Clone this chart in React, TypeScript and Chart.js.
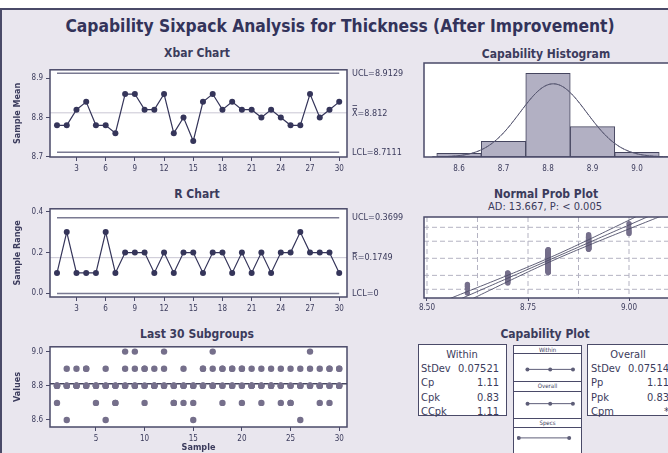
import React, { useEffect, useRef } from "react";
import { Chart, registerables } from "chart.js";

Chart.register(...registerables);

const FONT = "'DejaVu Sans Condensed', 'DejaVu Sans', sans-serif";
const TXT = "#3b3b5c";
const BG = "#e9e6ee";
const FRAME = "#4a4a68";
const DATA = "#35355a";
const LIMIT = "#7a7a92";
const CENTER = "#c9c7d3";
const DOT = "#756f8b";

// ---------- data ----------
const samples = [1, 2, 3, 4, 5, 6, 7, 8, 9, 10, 11, 12, 13, 14, 15, 16, 17, 18, 19, 20, 21, 22, 23, 24, 25, 26, 27, 28, 29, 30];
const xbarTicks = [3, 6, 9, 12, 15, 18, 21, 24, 27, 30];
const last30Ticks = [5, 10, 15, 20, 25, 30];
const xbarYTicks = [8.7, 8.8, 8.9];
const rangeYTicks = [0, 0.2, 0.4];
const valuesYTicks = [8.6, 8.8, 9.0];

const xbarMeans = [8.78, 8.78, 8.82, 8.84, 8.78, 8.78, 8.76, 8.86, 8.86, 8.82, 8.82, 8.86, 8.76, 8.8, 8.74, 8.84, 8.86, 8.82, 8.84, 8.82, 8.82, 8.8, 8.82, 8.8, 8.78, 8.78, 8.86, 8.8, 8.82, 8.84];
const sampleRanges = [0.1, 0.3, 0.1, 0.1, 0.1, 0.3, 0.1, 0.2, 0.2, 0.2, 0.1, 0.2, 0.1, 0.2, 0.2, 0.1, 0.2, 0.2, 0.1, 0.2, 0.1, 0.2, 0.1, 0.2, 0.2, 0.3, 0.2, 0.2, 0.2, 0.1];
const subgroupValues = [
  [8.7, 8.8, 8.8, 8.8, 8.8],
  [8.6, 8.8, 8.8, 8.8, 8.9],
  [8.8, 8.8, 8.8, 8.8, 8.9],
  [8.8, 8.8, 8.8, 8.9, 8.9],
  [8.7, 8.8, 8.8, 8.8, 8.8],
  [8.6, 8.8, 8.8, 8.8, 8.9],
  [8.7, 8.7, 8.8, 8.8, 8.8],
  [8.8, 8.8, 8.8, 8.9, 9.0],
  [8.8, 8.8, 8.8, 8.9, 9.0],
  [8.7, 8.8, 8.8, 8.9, 8.9],
  [8.8, 8.8, 8.8, 8.8, 8.9],
  [8.8, 8.8, 8.8, 8.9, 9.0],
  [8.7, 8.7, 8.8, 8.8, 8.8],
  [8.7, 8.8, 8.8, 8.8, 8.9],
  [8.6, 8.7, 8.8, 8.8, 8.8],
  [8.8, 8.8, 8.8, 8.9, 8.9],
  [8.8, 8.8, 8.8, 8.9, 9.0],
  [8.7, 8.8, 8.8, 8.9, 8.9],
  [8.8, 8.8, 8.8, 8.9, 8.9],
  [8.7, 8.8, 8.8, 8.9, 8.9],
  [8.8, 8.8, 8.8, 8.8, 8.9],
  [8.7, 8.8, 8.8, 8.8, 8.9],
  [8.8, 8.8, 8.8, 8.8, 8.9],
  [8.7, 8.8, 8.8, 8.8, 8.9],
  [8.7, 8.7, 8.8, 8.8, 8.9],
  [8.6, 8.8, 8.8, 8.8, 8.9],
  [8.8, 8.8, 8.8, 8.9, 9.0],
  [8.7, 8.8, 8.8, 8.8, 8.9],
  [8.7, 8.8, 8.8, 8.9, 8.9],
  [8.8, 8.8, 8.8, 8.9, 8.9],
];

const xbarUCL = 8.9129;
const xbarCenter = 8.812;
const xbarLCL = 8.7111;
const rUCL = 0.3699;
const rCenter = 0.1749;
const rLCL = 0;

const histBins = [8.6, 8.7, 8.8, 8.9, 9.0];
const histCounts = [4, 17, 91, 33, 5];
const histTicks = [8.6, 8.7, 8.8, 8.9, 9.0];

const probTicks = [8.5, 8.75, 9.0];
const probGridX = [8.5, 8.625, 8.75, 8.875, 9.0];
const probGridZ = [-2.326, -1.2816, 0, 1.2816, 2.326];
const adText = "AD: 13.667, P: < 0.005";

const processMean = 8.812;
const sdWithin = 0.07521;
const sdOverall = 0.07514;
const withinInterval = [8.586, 8.812, 9.038];
const overallInterval = [8.587, 8.812, 9.037];
const specLimits = [8.5, 9.0];

const withinStats = [
  ["StDev", "0.07521"],
  ["Cp", "1.11"],
  ["Cpk", "0.83"],
  ["CCpk", "1.11"],
];
const overallStats = [
  ["StDev", "0.07514"],
  ["Pp", "1.11"],
  ["Ppk", "0.83"],
  ["Cpm", "*"],
];

// ---------- helpers ----------
function invNorm(p: number): number {
  const a = [-3.969683028665376e1, 2.209460984245205e2, -2.759285104469687e2, 1.38357751867269e2, -3.066479806614716e1, 2.506628277459239];
  const b = [-5.447609879822406e1, 1.615858368580409e2, -1.556989798598866e2, 6.680131188771972e1, -1.328068155288572e1];
  const c = [-7.784894002430293e-3, -3.223964580411365e-1, -2.400758277161838, -2.549671010243232, 4.374664141464968, 2.938163982698783];
  const d = [7.784695709041462e-3, 3.224671290700398e-1, 2.445134137142996, 3.754408661907416];
  const pl = 0.02425;
  if (p < pl) {
    const q = Math.sqrt(-2 * Math.log(p));
    return (((((c[0] * q + c[1]) * q + c[2]) * q + c[3]) * q + c[4]) * q + c[5]) / ((((d[0] * q + d[1]) * q + d[2]) * q + d[3]) * q + 1);
  }
  if (p <= 1 - pl) {
    const q = p - 0.5;
    const r = q * q;
    return ((((((a[0] * r + a[1]) * r + a[2]) * r + a[3]) * r + a[4]) * r + a[5]) * q) / (((((b[0] * r + b[1]) * r + b[2]) * r + b[3]) * r + b[4]) * r + 1);
  }
  const q = Math.sqrt(-2 * Math.log(1 - p));
  return -(((((c[0] * q + c[1]) * q + c[2]) * q + c[3]) * q + c[4]) * q + c[5]) / ((((d[0] * q + d[1]) * q + d[2]) * q + d[3]) * q + 1);
}

function axis(o: any) {
  const tl = o.tickLen ?? 4;
  return {
    type: "linear",
    display: o.display ?? true,
    reverse: o.reverse ?? false,
    min: o.min,
    max: o.max,
    offset: false,
    afterBuildTicks: (s: any) => {
      s.ticks = (o.ticks || []).map((v: number) => ({ value: v }));
    },
    afterFit: (s: any) => {
      if (s.isHorizontal()) s.height = o.size;
      else s.width = o.size;
    },
    ticks: {
      display: o.showLabels ?? true,
      font: { family: FONT, size: 8 },
      color: TXT,
      padding: o.pad ?? 3,
      autoSkip: false,
      maxRotation: 0,
      callback: (v: any) => (o.fmt ? o.fmt(Number(v)) : String(v)),
    },
    grid: { display: tl > 0, drawOnChartArea: false, drawTicks: true, tickLength: tl, color: FRAME, lineWidth: 1 },
    border: { display: false },
    title: o.title
      ? { display: true, text: o.title, color: TXT, font: { family: FONT, size: 9, weight: "bold" }, padding: o.titlePad ?? 0 }
      : { display: false },
  };
}

const framePlugin = {
  id: "frame",
  beforeDraw(chart: any) {
    const { ctx, chartArea: a } = chart;
    ctx.save();
    ctx.fillStyle = "#ffffff";
    ctx.fillRect(a.left, a.top, a.right - a.left, a.bottom - a.top);
    ctx.restore();
  },
  afterDraw(chart: any) {
    const { ctx, chartArea: a } = chart;
    ctx.save();
    ctx.strokeStyle = FRAME;
    ctx.lineWidth = 1.5;
    ctx.strokeRect(a.left, a.top, a.right - a.left, a.bottom - a.top);
    ctx.restore();
  },
};

const refLinesPlugin = {
  id: "refLines",
  beforeDatasetsDraw(chart: any, _a: any, opts: any) {
    const items = opts && opts.items;
    if (!items) return;
    const { ctx, chartArea: a, scales } = chart;
    ctx.save();
    ctx.beginPath();
    ctx.rect(a.left, a.top, a.right - a.left, a.bottom - a.top);
    ctx.clip();
    for (const it of items) {
      ctx.strokeStyle = it.color;
      ctx.lineWidth = it.width;
      ctx.setLineDash(it.dash || []);
      ctx.beginPath();
      if (it.axis === "x") {
        const px = scales.x.getPixelForValue(it.value);
        ctx.moveTo(px, a.top);
        ctx.lineTo(px, a.bottom);
      } else {
        const py = scales.y.getPixelForValue(it.value);
        const x0 = it.from != null ? scales.x.getPixelForValue(it.from) : a.left;
        const x1 = it.to != null ? scales.x.getPixelForValue(it.to) : a.right;
        ctx.moveTo(x0, py);
        ctx.lineTo(x1, py);
      }
      ctx.stroke();
    }
    ctx.restore();
  },
};

const sideLabelsPlugin = {
  id: "sideLabels",
  afterDraw(chart: any, _a: any, opts: any) {
    const items = opts && opts.items;
    if (!items) return;
    const { ctx, chartArea: a, scales } = chart;
    ctx.save();
    ctx.font = `9px ${FONT}`;
    ctx.fillStyle = TXT;
    ctx.strokeStyle = TXT;
    ctx.lineWidth = 0.8;
    ctx.textBaseline = "middle";
    ctx.textAlign = "left";
    for (const it of items) {
      const py = scales.y.getPixelForValue(it.value) + (it.dy || 0);
      const x0 = a.right + 5;
      ctx.fillText(it.text, x0, py);
      if (it.bars) {
        const w = ctx.measureText(it.text[0]).width;
        for (let i = 0; i < it.bars; i++) {
          const yy = Math.round(py - 6 - i * 2.5) + 0.5;
          ctx.beginPath();
          ctx.moveTo(x0 + 0.5, yy);
          ctx.lineTo(x0 + w - 0.5, yy);
          ctx.stroke();
        }
      }
    }
    ctx.restore();
  },
};

const basePlugins = { legend: { display: false }, tooltip: { enabled: false } };

function baseOptions(padding: any) {
  return {
    animation: false,
    responsive: false,
    maintainAspectRatio: false,
    devicePixelRatio: 1,
    events: [],
    layout: { padding },
  };
}

// ---------- chart configs ----------
function xbarConfig(): any {
  return {
    type: "line",
    data: {
      datasets: [
        {
          data: samples.map((s, i) => ({ x: s, y: xbarMeans[i] })),
          borderColor: DATA,
          backgroundColor: DATA,
          borderWidth: 1.2,
          pointRadius: 3,
          pointBorderWidth: 0,
          pointBackgroundColor: DATA,
          tension: 0,
        },
      ],
    },
    options: {
      ...baseOptions({ top: 5, right: 65, left: 0, bottom: 0 }),
      scales: {
        x: axis({ min: 0.28, max: 30.8, ticks: xbarTicks, size: 20 }),
        y: axis({ min: 8.699, max: 8.922, ticks: xbarYTicks, fmt: (v: number) => v.toFixed(1), size: 48, title: "Sample Mean", titlePad: { top: 10, bottom: 0 } }),
      },
      plugins: {
        ...basePlugins,
        refLines: {
          items: [
            { value: xbarCenter, color: CENTER, width: 1 },
            { value: xbarUCL, color: LIMIT, width: 1.5, from: 1, to: 30 },
            { value: xbarLCL, color: LIMIT, width: 1.5, from: 1, to: 30 },
          ],
        },
        sideLabels: {
          items: [
            { value: xbarUCL, text: `UCL=${xbarUCL}` },
            { value: xbarCenter, text: `X=${xbarCenter}`, bars: 2, dy: 1 },
            { value: xbarLCL, text: `LCL=${xbarLCL}` },
          ],
        },
      },
    },
    plugins: [framePlugin, refLinesPlugin, sideLabelsPlugin],
  };
}

function rConfig(): any {
  return {
    type: "line",
    data: {
      datasets: [
        {
          data: samples.map((s, i) => ({ x: s, y: sampleRanges[i] })),
          borderColor: DATA,
          backgroundColor: DATA,
          borderWidth: 1.2,
          pointRadius: 3,
          pointBorderWidth: 0,
          pointBackgroundColor: DATA,
          tension: 0,
        },
      ],
    },
    options: {
      ...baseOptions({ top: 5, right: 65, left: 0, bottom: 0 }),
      scales: {
        x: axis({ min: 0.28, max: 30.8, ticks: xbarTicks, size: 20 }),
        y: axis({ min: -0.0176, max: 0.414, ticks: rangeYTicks, fmt: (v: number) => v.toFixed(1), size: 48, title: "Sample Range", titlePad: { top: 10, bottom: 0 } }),
      },
      plugins: {
        ...basePlugins,
        refLines: {
          items: [
            { value: rCenter, color: CENTER, width: 1 },
            { value: rUCL, color: LIMIT, width: 1.5, from: 1, to: 30 },
            { value: rLCL, color: LIMIT, width: 1.5, from: 1, to: 30 },
          ],
        },
        sideLabels: {
          items: [
            { value: rUCL, text: `UCL=${rUCL}` },
            { value: rCenter, text: `R=${rCenter}`, bars: 1, dy: 0 },
            { value: rLCL, text: `LCL=${rLCL}` },
          ],
        },
      },
    },
    plugins: [framePlugin, refLinesPlugin, sideLabelsPlugin],
  };
}

function last30Config(): any {
  const pts: any[] = [];
  subgroupValues.forEach((vals, i) => vals.forEach((v) => pts.push({ x: samples[i], y: v })));
  return {
    type: "scatter",
    data: {
      datasets: [
        {
          data: pts,
          pointRadius: 3.2,
          pointBorderWidth: 0,
          pointBackgroundColor: DOT,
          backgroundColor: DOT,
          borderColor: DOT,
        },
      ],
    },
    options: {
      ...baseOptions({ top: 5, right: 65, left: 0, bottom: 0 }),
      scales: {
        x: axis({ min: 0.28, max: 30.8, ticks: last30Ticks, size: 26, title: "Sample", titlePad: { top: 0, bottom: 0 } }),
        y: axis({ min: 8.559, max: 9.028, ticks: valuesYTicks, fmt: (v: number) => v.toFixed(1), size: 48, title: "Values", titlePad: { top: 10, bottom: 0 } }),
      },
      plugins: {
        ...basePlugins,
        refLines: { items: [{ value: processMean, color: "#45455f", width: 1.5 }] },
      },
    },
    plugins: [framePlugin, refLinesPlugin],
  };
}

function normalCurve(sd: number) {
  const n = histCounts.reduce((s, v) => s + v, 0);
  const bw = 0.1;
  const pts: any[] = [];
  for (let x = 8.54; x <= 9.08; x += 0.004) {
    const z = (x - processMean) / sd;
    pts.push({ x, y: (n * bw * Math.exp(-0.5 * z * z)) / (sd * Math.sqrt(2 * Math.PI)) });
  }
  return pts;
}

function histConfig(): any {
  return {
    type: "bar",
    data: {
      datasets: [
        {
          type: "line",
          data: normalCurve(sdWithin),
          borderColor: "#55556f",
          borderWidth: 1,
          pointRadius: 0,
          tension: 0,
          order: 0,
        },
        {
          type: "line",
          data: normalCurve(sdOverall),
          borderColor: "#6a6a84",
          borderWidth: 0.8,
          borderDash: [3, 2],
          pointRadius: 0,
          tension: 0,
          order: 0,
        },
        {
          type: "bar",
          data: histBins.map((b, i) => ({ x: b, y: histCounts[i] })),
          backgroundColor: "#b2b0c3",
          borderColor: "#45455f",
          borderWidth: 1,
          borderSkipped: false,
          barPercentage: 1,
          categoryPercentage: 1,
          order: 1,
        },
      ],
    },
    options: {
      ...baseOptions({ top: 1, right: 12, left: 10, bottom: 0 }),
      scales: {
        x: axis({ min: 8.5213, max: 9.0787, ticks: histTicks, fmt: (v: number) => v.toFixed(1), size: 20, tickLen: 0, pad: 7 }),
        y: axis({ min: 0, max: 102.2, ticks: [], size: 0, display: false }),
      },
      plugins: { ...basePlugins },
    },
    plugins: [framePlugin],
  };
}

function probConfig(): any {
  const all: number[] = [];
  subgroupValues.forEach((vals) => vals.forEach((v) => all.push(v)));
  all.sort((a, b) => a - b);
  const n = all.length;
  const pts = all.map((v, i) => ({ x: v, y: invNorm((i + 1 - 0.3) / (n + 0.4)) }));
  const fit: any[] = [];
  const lo: any[] = [];
  const hi: any[] = [];
  for (let z = -3.4; z <= 3.45; z += 0.1) {
    const c = processMean + sdOverall * z;
    const se = 1.96 * sdOverall * Math.sqrt(1 / n + (z * z) / (2 * (n - 1)));
    fit.push({ x: c, y: z });
    lo.push({ x: c - se, y: z });
    hi.push({ x: c + se, y: z });
  }
  const lineDs = (d: any[]) => ({ data: d, showLine: true, borderColor: "#4d4d68", borderWidth: 0.9, pointRadius: 0, tension: 0 });
  return {
    type: "scatter",
    data: {
      datasets: [
        lineDs(fit),
        lineDs(lo),
        lineDs(hi),
        { data: pts, pointRadius: 2.7, pointBorderWidth: 0, pointBackgroundColor: DOT, backgroundColor: DOT, borderColor: DOT },
      ],
    },
    options: {
      ...baseOptions({ top: 5, right: 12, left: 10, bottom: 0 }),
      scales: {
        x: axis({ min: 8.4926, max: 9.1064, ticks: probTicks, fmt: (v: number) => v.toFixed(2), size: 19, tickLen: 3, pad: 2 }),
        y: axis({ min: -2.98, max: 3.1, ticks: [], size: 0, display: false }),
      },
      plugins: {
        ...basePlugins,
        refLines: {
          items: [
            ...probGridX.map((v) => ({ axis: "x", value: v, color: "#b4b3c2", width: 1, dash: [5, 3] })),
            ...probGridZ.map((v) => ({ value: v, color: "#b4b3c2", width: 1, dash: [5, 3] })),
          ],
        },
      },
    },
    plugins: [framePlugin, refLinesPlugin],
  };
}

function capConfig(): any {
  const row = (vals: number[], r: number) => ({
    data: vals.map((v) => ({ x: v, y: r })),
    showLine: true,
    borderColor: "#5e5e78",
    borderWidth: 1,
    pointRadius: 2,
    pointBorderWidth: 0,
    pointBackgroundColor: "#5e5e78",
    tension: 0,
  });
  return {
    type: "scatter",
    data: { datasets: [row(withinInterval, 0), row(overallInterval, 1), row(specLimits, 2)] },
    options: {
      ...baseOptions({ top: 0, right: 0, left: 0, bottom: 0 }),
      scales: {
        x: axis({ min: 8.4825, max: 9.0877, ticks: [], size: 0, display: false }),
        y: axis({ min: -0.595, max: 2.324, ticks: [], size: 0, display: false, reverse: true }),
      },
      plugins: { ...basePlugins },
    },
    plugins: [],
  };
}

// ---------- layout helpers ----------
function Txt(props: { x: number; y: number; text: string; size: number; bold?: boolean; align?: string; color?: string }) {
  const { x, y, text, size, bold, align = "center", color = TXT } = props;
  const tx = align === "center" ? "-50%" : align === "right" ? "-100%" : "0";
  return (
    <div
      style={{
        position: "absolute",
        left: x,
        top: y,
        transform: `translate(${tx}, -50%)`,
        font: `${bold ? "bold " : ""}${size}px ${FONT}`,
        color,
        whiteSpace: "nowrap",
        lineHeight: 1,
      }}
    >
      {text}
    </div>
  );
}

function Box(props: { l: number; t: number; w: number; h: number }) {
  return (
    <div
      style={{
        position: "absolute",
        left: props.l,
        top: props.t,
        width: props.w,
        height: props.h,
        boxSizing: "border-box",
        border: `1px solid ${FRAME}`,
        background: "#ffffff",
      }}
    />
  );
}

function Cnv(props: { r: any; l: number; t: number; w: number; h: number }) {
  return (
    <canvas
      ref={props.r}
      width={props.w}
      height={props.h}
      style={{ position: "absolute", left: props.l, top: props.t, width: props.w, height: props.h }}
    />
  );
}

export default function App() {
  const rX = useRef<HTMLCanvasElement>(null);
  const rR = useRef<HTMLCanvasElement>(null);
  const rL = useRef<HTMLCanvasElement>(null);
  const rH = useRef<HTMLCanvasElement>(null);
  const rP = useRef<HTMLCanvasElement>(null);
  const rC = useRef<HTMLCanvasElement>(null);

  useEffect(() => {
    const charts: Chart[] = [];
    charts.push(new Chart(rX.current as any, xbarConfig()));
    charts.push(new Chart(rR.current as any, rConfig()));
    charts.push(new Chart(rL.current as any, last30Config()));
    charts.push(new Chart(rH.current as any, histConfig()));
    charts.push(new Chart(rP.current as any, probConfig()));
    charts.push(new Chart(rC.current as any, capConfig()));
    return () => charts.forEach((c) => c.destroy());
  }, []);

  return (
    <div style={{ position: "fixed", left: 0, top: 0, width: 668, height: 453, overflow: "hidden", background: "#ffffff" }}>
      <div
        style={{
          position: "absolute",
          left: 0,
          top: 8,
          width: 720,
          height: 480,
          background: BG,
          borderLeft: `2px solid ${FRAME}`,
          borderTop: `2px solid ${FRAME}`,
          boxSizing: "border-box",
        }}
      />
      <Txt x={340} y={27} text="Capability Sixpack Analysis for Thickness (After Improvement)" size={17.3} bold color="#33335a" />

      <Txt x={197} y={53} text="Xbar Chart" size={12} bold />
      <Txt x={197} y={194} text="R Chart" size={12} bold />
      <Txt x={197} y={334} text="Last 30 Subgroups" size={12} bold />
      <Txt x={546} y={54} text="Capability Histogram" size={12} bold />
      <Txt x={546} y={194} text="Normal Prob Plot" size={12} bold />
      <Txt x={545} y={206} text={adText} size={11} />
      <Txt x={545} y={334} text="Capability Plot" size={12} bold />

      <Cnv r={rX} l={2} t={62} w={410} h={115} />
      <Cnv r={rR} l={2} t={201} w={410} h={116} />
      <Cnv r={rL} l={2} t={339} w={410} h={114} />
      <Cnv r={rH} l={414} t={62} w={270} h={115} />
      <Cnv r={rP} l={414} t={212} w={270} h={105} />

      {/* capability plot boxes */}
      <Box l={418} t={344} w={89} h={72} />
      <Txt x={462} y={354} text="Within" size={11} />
      {withinStats.map((s, i) => (
        <React.Fragment key={"w" + i}>
          <Txt x={421} y={368 + i * 14.3} text={s[0]} size={11} align="left" />
          <Txt x={499} y={368 + i * 14.3} text={s[1]} size={11} align="right" />
        </React.Fragment>
      ))}
      <Box l={587} t={344} w={100} h={72} />
      <Txt x={628} y={354} text="Overall" size={11} />
      {overallStats.map((s, i) => (
        <React.Fragment key={"o" + i}>
          <Txt x={591} y={368 + i * 14.3} text={s[0]} size={11} align="left" />
          <Txt x={669} y={368 + i * 14.3} text={s[1]} size={11} align="right" />
        </React.Fragment>
      ))}

      <Box l={513} t={345} w={69} h={9} />
      <Box l={513} t={353} w={69} h={29} />
      <Box l={513} t={381} w={69} h={11} />
      <Box l={513} t={391} w={69} h={28} />
      <Box l={513} t={418} w={69} h={10} />
      <Box l={513} t={427} w={69} h={40} />
      <Txt x={547.5} y={349.5} text="Within" size={6} />
      <Txt x={547.5} y={386} text="Overall" size={6} />
      <Txt x={547.5} y={423} text="Specs" size={6} />
      <Cnv r={rC} l={513} t={345} w={69} h={108} />
    </div>
  );
}
